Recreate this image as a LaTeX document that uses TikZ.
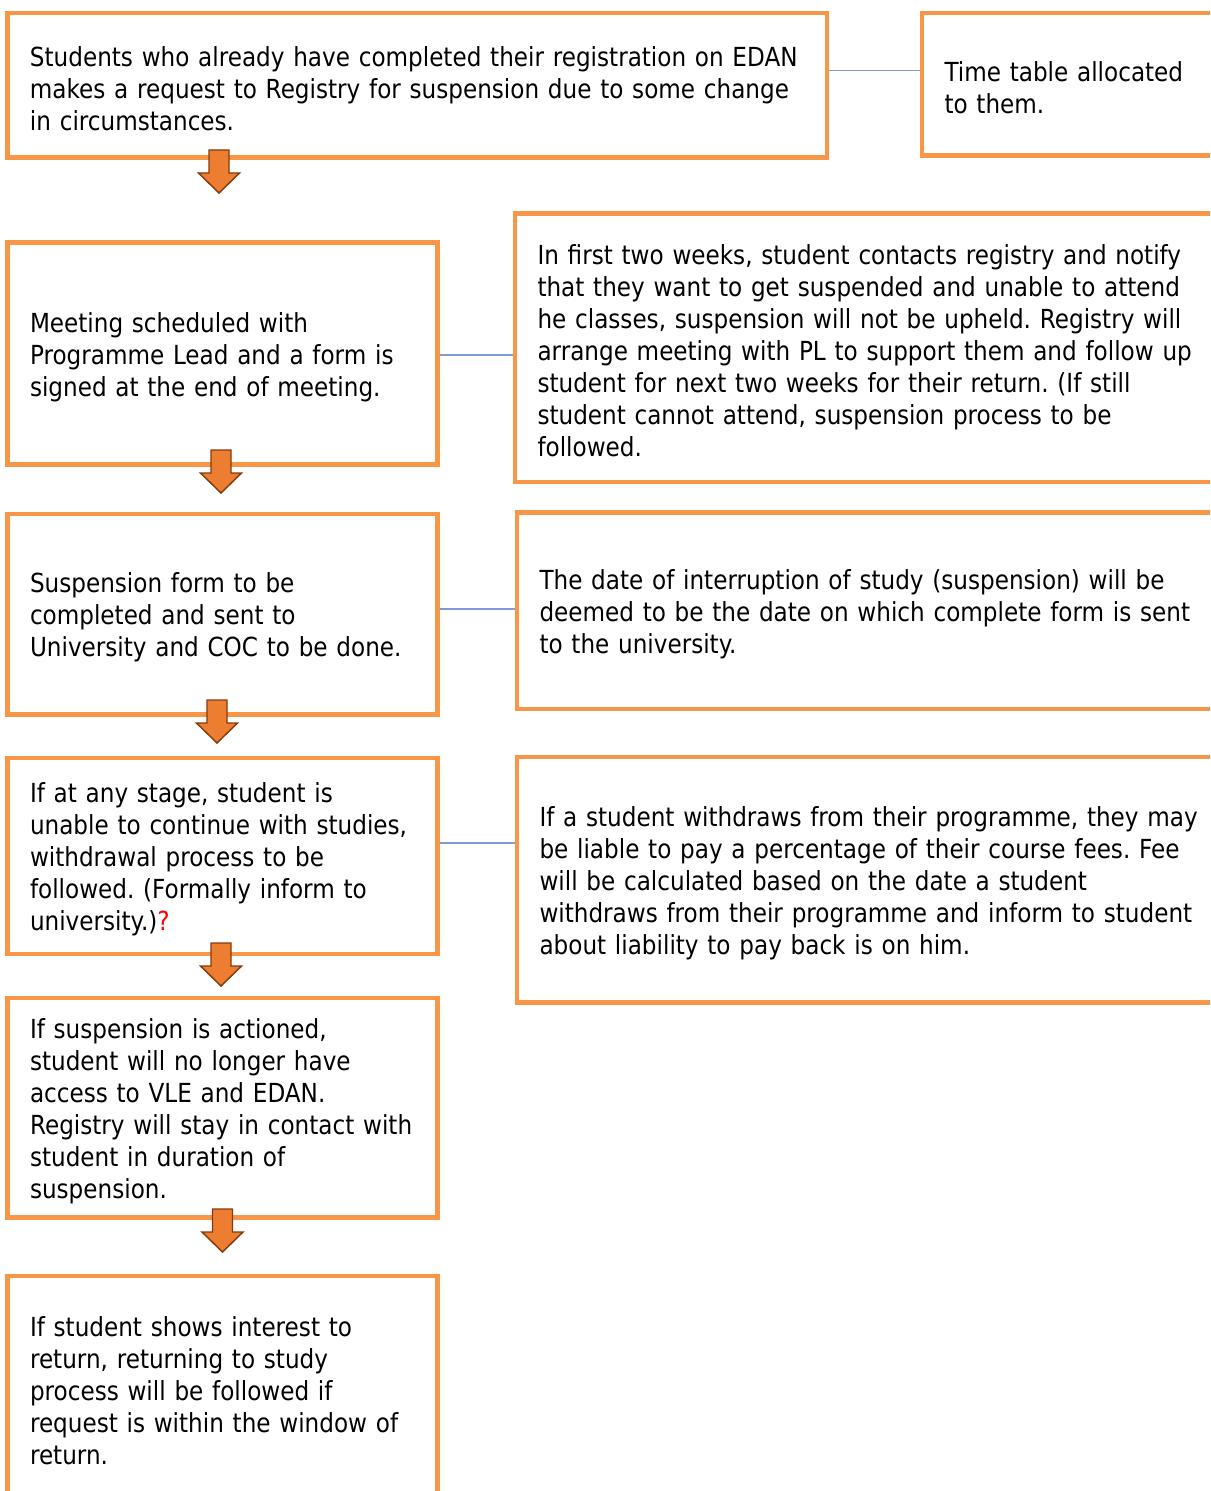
\documentclass[tikz,border=0pt]{standalone}
\usepackage{fontspec}
\setmainfont[FakeStretch=0.88]{DejaVu Sans}
\frenchspacing
\hyphenpenalty=10000
\exhyphenpenalty=10000

\definecolor{boxorange}{RGB}{247,150,70}
\definecolor{arroworange}{RGB}{237,125,49}
\definecolor{arrowbrown}{RGB}{132,60,12}
\definecolor{linkblue}{RGB}{124,156,214}

\tikzset{
  panel/.style={draw=boxorange,line width=3.4pt,fill=white,inner xsep=16.9pt,
    inner ysep=0pt,align=left,font=\fontsize{19.7pt}{24pt}\selectfont,
    execute at end node={\par\vspace{-5pt}}},
  link/.style={draw=linkblue,line width=1.1pt},
  pics/downarrow/.style={code={
    \draw[fill=arroworange,draw=arrowbrown,line width=1.1pt]
      (-10,0) -- (10,0) -- (10,23) -- (20.5,23) -- (0,43) -- (-20.5,23) -- (-10,23) -- cycle;
  }}
}

\begin{document}
\begin{tikzpicture}[x=0.75pt,y=-0.75pt,line join=miter]
  \useasboundingbox (0,0) rectangle (1210,1491);
  \fill[white] (0,0) rectangle (1210,1491);
  \clip (0,0) rectangle (1210,1491);

  % left column
  \node[panel,minimum width=614.6pt,minimum height=108.5pt,text width=580.9pt] (req) at (417.25,85.15)
    {Students who already have completed their registration on EDAN\\makes a request to Registry for suspension due to some change\\in circumstances.};
  \node[panel,minimum width=322.5pt,minimum height=166.5pt,text width=288.75pt] (meet) at (222.5,353.5)
    {Meeting scheduled with\\Programme Lead and a form is\\signed at the end of meeting.};
  \node[panel,minimum width=322.5pt,minimum height=150.4pt,text width=288.75pt] (form) at (222.5,614.25)
    {Suspension form to be\\completed and sent to\\University and COC to be done.};
  \node[panel,minimum width=322.5pt,minimum height=147pt,text width=288.75pt] (withdraw) at (222.5,856)
    {If at any stage, student is\\unable to continue with studies,\\withdrawal process to be\\followed. (Formally inform to\\university.)\textcolor{red}{?}};
  \node[panel,minimum width=322.5pt,minimum height=164.6pt,text width=288.75pt] (actioned) at (222.5,1107.75)
    {If suspension is actioned,\\student will no longer have\\access to VLE and EDAN.\\Registry will stay in contact with\\student in duration of\\suspension.};
  \node[panel,minimum width=322.5pt,minimum height=167.4pt,text width=288.75pt] (return) at (222.5,1387.4)
    {If student shows interest to\\return, returning to study\\process will be followed if\\request is within the window of\\return.};

  % right column
  \node[panel,minimum width=246pt,minimum height=107pt,text width=212.25pt] (timetable) at (1086,84.15)
    {Time table allocated\\to them.};
  \node[panel,minimum width=551.25pt,minimum height=201.4pt,text width=517.5pt] (twoweeks) at (882.5,347.75)
    {In first two weeks, student contacts registry and notify\\that they want to get suspended and unable to attend\\he classes, suspension will not be upheld. Registry will\\arrange meeting with PL to support them and follow up\\student for next two weeks for their return. (If still\\student cannot attend, suspension process to be\\followed.};
  \node[panel,minimum width=549.75pt,minimum height=147.4pt,text width=516pt] (date) at (883.5,610.75)
    {The date of interruption of study (suspension) will be\\deemed to be the date on which complete form is sent\\to the university.};
  \node[panel,minimum width=549.75pt,minimum height=184.1pt,text width=516pt] (fees) at (883.5,879.75)
    {If a student withdraws from their programme, they may\\be liable to pay a percentage of their course fees. Fee\\will be calculated based on the date a student\\withdraws from their programme and inform to student\\about liability to pay back is on him.};

  % side links
  \draw[link] ([yshift=10.9pt]req.east) coordinate (l1) -- (l1 -| timetable.west);
  \draw[link] ([yshift=-1.1pt]meet.east) coordinate (l2) -- (l2 -| twoweeks.west);
  \draw[link] ([yshift=3.9pt]form.east) coordinate (l3) -- (l3 -| date.west);
  \draw[link] ([yshift=9.8pt]withdraw.east) coordinate (l4) -- (l4 -| fees.west);

  % down arrows
  \pic at (219,150) {downarrow};
  \pic at (221,450) {downarrow};
  \pic at (217,700) {downarrow};
  \pic at (221,943) {downarrow};
  \pic at (222.5,1209) {downarrow};
\end{tikzpicture}
\end{document}
